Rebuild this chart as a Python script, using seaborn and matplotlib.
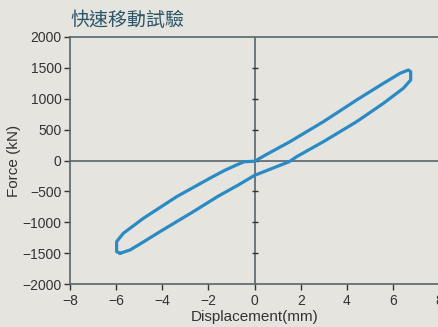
import matplotlib
matplotlib.use("Agg")
import matplotlib.pyplot as plt
import seaborn as sns
import numpy as np
import pandas as pd

# Hysteresis loop: loading branch (left tip -> right tip), then unloading branch back
load_disp = [-5.83, -5.98, -5.98, -5.69, -4.82, -3.38, -1.93, -1.30, -0.71, -0.45,
             0.0, 0.50, 1.53, 2.98, 4.42, 5.58, 6.30, 6.66, 6.76, 6.76]
load_force = [-1503, -1476, -1314, -1179, -936, -586, -285, -160, -60, -20,
              -12, 95, 305, 629, 980, 1250, 1412, 1466, 1438, 1303]
unload_disp = [6.44, 5.58, 4.42, 2.98, 1.82, 1.50, 0.95, 0.0, -0.71, -1.59,
               -2.66, -4.10, -5.00, -5.40, -5.83]
unload_force = [1169, 926, 629, 305, 62, -19, -100, -240, -397, -580,
                -829, -1152, -1360, -1449, -1503]

x_ticks = [-8, -6, -4, -2, 0, 2, 4, 6, 8]
y_ticks = [-2000, -1500, -1000, -500, 0, 500, 1000, 1500, 2000]

title = "快速移動試驗"
x_label = "Displacement(mm)"
y_label = "Force (kN)"

bg = "#e5e4de"
axis_col = "#56666f"
line_col = "#2a8bc4"
text_col = "#333333"

sns.set_style("white")
plt.rcParams["font.family"] = ["Liberation Sans", "DejaVu Sans"]

df = pd.DataFrame({
    "disp": load_disp + unload_disp,
    "force": load_force + unload_force,
})

fig = plt.figure(figsize=(4.38, 3.27), dpi=100, facecolor=bg)
ax = fig.add_axes([70 / 438, 43 / 327, 369.3 / 438, 247 / 327])
ax.set_facecolor(bg)

sns.lineplot(data=df, x="disp", y="force", sort=False, estimator=None,
             color=line_col, linewidth=2.3, ax=ax, zorder=3)

ax.set_xlim(-8, 8)
ax.set_ylim(-2000, 2000)
ax.set_xticks(x_ticks)
ax.set_yticks(y_ticks)

# centre cross lines
ax.axhline(0, color=axis_col, linewidth=1.2, zorder=2)
ax.axvline(0, color=axis_col, linewidth=1.2, zorder=2)
# tick marks along the vertical zero line
ax.plot([0] * len(y_ticks[1:-1]), y_ticks[1:-1], linestyle="none", marker="_",
        markersize=4.5, markeredgewidth=1.0, color="#333333", zorder=2, clip_on=False)

for side in ["left", "bottom", "top"]:
    ax.spines[side].set_visible(True)
    ax.spines[side].set_color(axis_col)
    ax.spines[side].set_linewidth(1.2)
ax.spines["right"].set_visible(False)

ax.tick_params(axis="both", direction="out", length=4, width=1.0,
               color="#333333", labelsize=10, labelcolor=text_col, pad=2)
ax.tick_params(axis="x", bottom=True, pad=3)
ax.tick_params(axis="y", left=True)

ax.set_xlabel(x_label, fontsize=11, color=text_col, labelpad=2)
ax.set_ylabel(y_label, fontsize=11, color=text_col, labelpad=1)

fig.text(70 / 438, 1 - 20 / 327, title, fontsize=13.7, color="#2c5567",
         ha="left", va="center",
         family=["Noto Sans CJK TC", "DejaVu Sans"])

fig.savefig("out.png", dpi=100, facecolor=bg)
